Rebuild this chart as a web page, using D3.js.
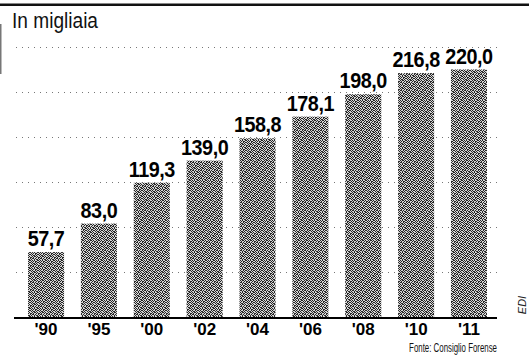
<!DOCTYPE html>
<html>
<head>
<meta charset="utf-8">
<script src="https://cdn.jsdelivr.net/npm/d3@7"></script>
<style>
  html, body { margin: 0; padding: 0; background: #fff; }
  svg { display: block; }
</style>
</head>
<body>
<script>
// ---- data ----
const categories = ["'90", "'95", "'00", "'02", "'04", "'06", "'08", "'10", "'11"];
const values = [57.7, 83.0, 119.3, 139.0, 158.8, 178.1, 198.0, 216.8, 220.0];
const valueLabels = ["57,7", "83,0", "119,3", "139,0", "158,8", "178,1", "198,0", "216,8", "220,0"];
const gridTicks = [40, 80, 120, 160, 200, 240];
const titleText = "In migliaia";
const sourceText = "Fonte: Consiglio Forense";
const creditText = "EDI";

const W = 529, H = 358;
const svg = d3.select("body").append("svg").attr("width", W).attr("height", H);

// stipple pattern for bars (hand-placed, irregular)
const defs = svg.append("defs");
const pat = defs.append("pattern").attr("id", "stipple")
  .attr("width", 8).attr("height", 8).attr("patternUnits", "userSpaceOnUse");
pat.append("rect").attr("width", 8).attr("height", 8).attr("fill", "#d6d6d6");
const dotRows = [
  "10110100",
  "01001011",
  "11010010",
  "00101101",
  "10100110",
  "01011001",
  "10010110",
  "01101001"
];
dotRows.forEach((row, py) => row.split("").forEach((c, px) => {
  if (c === "1") pat.append("rect").attr("x", px).attr("y", py)
    .attr("width", 1).attr("height", 1).attr("fill", "#262626");
}));

const x = d3.scaleBand().domain(categories)
  .range([19.6, 495.4]).paddingInner(0.318).paddingOuter(0.159);
const y = d3.scaleLinear().domain([0, 240]).range([317, 47]);

// top rule
svg.append("rect").attr("x", 0).attr("y", 3.5).attr("width", W).attr("height", 2.5).attr("fill", "#111");
// left vertical rule
svg.append("line").attr("x1", 0.75).attr("x2", 0.75).attr("y1", 24).attr("y2", 74)
  .attr("stroke", "#777").attr("stroke-width", 1.5);

// title
svg.append("text").attr("x", 12).attr("y", 28)
  .attr("font-family", "'Liberation Sans Narrow', 'Arial Narrow', 'Liberation Sans', Arial, sans-serif")
  .attr("font-size", 22).attr("fill", "#111")
  .attr("textLength", 86).attr("lengthAdjust", "spacingAndGlyphs")
  .text(titleText);

// dotted gridlines
svg.append("g").selectAll("line").data(gridTicks).join("line")
  .attr("x1", 16).attr("x2", 500)
  .attr("y1", d => Math.round(y(d)) + 0.5).attr("y2", d => Math.round(y(d)) + 0.5)
  .attr("stroke", "#777").attr("stroke-width", 1).attr("stroke-dasharray", "1,5");

// bars
svg.append("g").selectAll("rect").data(values).join("rect")
  .attr("x", (d, i) => x(categories[i]))
  .attr("y", d => y(d))
  .attr("width", x.bandwidth())
  .attr("height", d => y(0) - y(d))
  .attr("fill", "url(#stipple)");

// value labels
svg.append("g").selectAll("text").data(values).join("text")
  .attr("transform", (d, i) => `translate(${x(categories[i]) + x.bandwidth() / 2},${y(d) - 6}) scale(0.9,1)`)
  .attr("text-anchor", "middle")
  .attr("font-family", "'Liberation Sans', Arial, sans-serif")
  .attr("font-weight", "bold").attr("font-size", 22).attr("letter-spacing", -0.5)
  .attr("fill", "#000")
  .text((d, i) => valueLabels[i]);

// x axis
const xAxis = d3.axisBottom(x).tickSize(0).tickPadding(0);
const gx = svg.append("g").attr("transform", `translate(0,${y(0)})`).call(xAxis);
gx.select(".domain").remove();
gx.selectAll("text")
  .attr("dy", 0).attr("y", 18)
  .attr("font-family", "'Liberation Sans', Arial, sans-serif")
  .attr("font-weight", "bold").attr("font-size", 17).attr("fill", "#000");
svg.append("line").attr("x1", 14).attr("x2", 497)
  .attr("y1", y(0) + 1).attr("y2", y(0) + 1)
  .attr("stroke", "#000").attr("stroke-width", 2);

// source (horizontally condensed to the reference width)
const src = svg.append("text")
  .attr("text-anchor", "end")
  .attr("font-family", "'Liberation Sans Narrow', 'Arial Narrow', 'Liberation Sans', Arial, sans-serif")
  .attr("font-size", 13).attr("fill", "#111")
  .text(sourceText);
const srcLen = src.node().getComputedTextLength() || 88;
src.attr("transform", `translate(497,352) scale(${Math.min(1, 88 / srcLen)},1)`);

// credit
svg.append("text").attr("transform", "translate(526,305) rotate(-90)")
  .attr("text-anchor", "middle")
  .attr("font-family", "'Liberation Sans', Arial, sans-serif")
  .attr("font-style", "italic").attr("font-size", 11).attr("fill", "#222")
  .text(creditText);
</script>
</body>
</html>
